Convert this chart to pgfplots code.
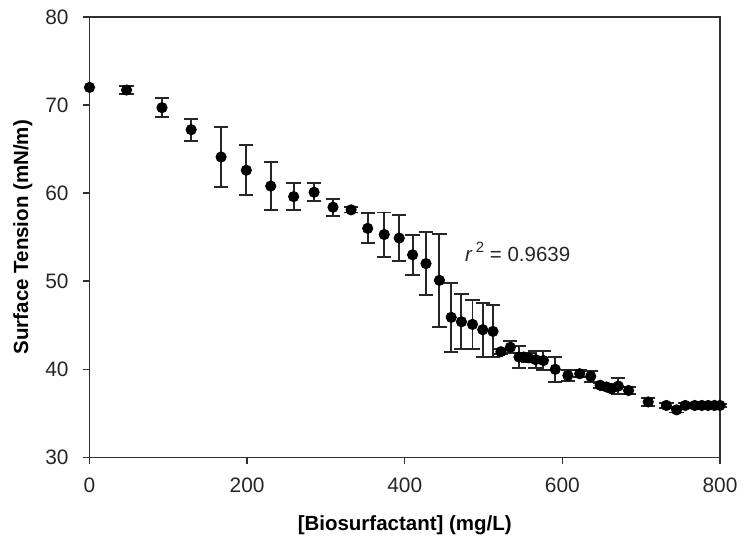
\documentclass[border=0pt]{standalone}
\usepackage{fontspec}
\setmainfont{Liberation Sans}
\usepackage{pgfplots}
\pgfplotsset{compat=1.18}
\definecolor{axgray}{HTML}{303030}

\begin{document}
\begin{tikzpicture}
\begin{axis}[
    scale only axis,
    width=317pt, height=221.5pt,
    xmin=0, xmax=800, ymin=30, ymax=80,
    xtick={0,200,...,800}, ytick={30,40,...,80},
    minor tick num=0,
    xtick pos=left, ytick pos=left,
    tick align=outside,
    major tick length=3.5pt,
    axis line style={axgray, line width=0.75pt},
    every tick/.style={axgray, line width=0.75pt},
    /pgf/number format/assume math mode=true,
    tick label style={font=\fontsize{10.5}{12}\selectfont, text=black!85},
    xticklabel style={yshift=-3.5pt},
    yticklabel style={xshift=-3.5pt},
    label style={font=\fontsize{10.3}{12}\selectfont\bfseries},
    xlabel={[Biosurfactant] (mg/L)},
    ylabel={Surface Tension (mN/m)},
    xlabel style={at={(rel axis cs:0.5,0)}, anchor=center, yshift=-34pt},
    ylabel style={at={(rel axis cs:0,0.5)}, anchor=center, yshift=33.5pt},
    clip=false,
]
\addplot[only marks, mark=*, mark size=2.6pt, black] coordinates {(0,72.0)};
\addplot[only marks, mark=*, mark size=2.6pt, black,
    error bars/.cd, y dir=both, y explicit,
    error bar style={black!85, line width=1pt},
    error mark options={black!85, rotate=90, mark size=3.6pt, line width=1pt}
] coordinates {
    (47,71.7) +- (0,0.5)
    (92,69.7) +- (0,1.1)
    (129,67.2) +- (0,1.25)
    (167,64.1) +- (0,3.35)
    (199,62.6) +- (0,2.85)
    (230,60.8) +- (0,2.75)
    (259,59.6) +- (0,1.5)
    (285,60.1) +- (0,1.0)
    (309,58.4) +- (0,0.95)
    (332,58.1) +- (0,0.3)
    (353,56.0) +- (0,1.7)
    (374,55.3) +- (0,2.5)
    (393,54.9) +- (0,2.65)
    (410,53.0) +- (0,2.25)
    (427,52.0) +- (0,3.6)
    (444,50.1) +- (0,5.25)
    (459,45.9) +- (0,3.9)
    (472,45.4) +- (0,3.1)
    (486,45.1) +- (0,2.75)
    (499,44.5) +- (0,3.05)
    (512,44.3) +- (0,2.95)
    (522,42.0) +- (0,0.3)
    (534,42.5) +- (0,0.7)
    (545,41.4) +- (0,1.3)
    (551,41.4) +- (0,0.4)
    (557,41.3) +- (0,0.5)
    (566,41.1) +- (0,1.0)
    (576,41.0) +- (0,1.1)
    (591,40.0) +- (0,1.45)
    (607,39.3) +- (0,0.6)
    (622,39.5) +- (0,0.4)
    (636,39.2) +- (0,0.65)
    (648,38.2) +- (0,0.3)
    (656,38.0) +- (0,0.3)
    (662,37.8) +- (0,0.3)
    (671,38.1) +- (0,0.95)
    (684,37.6) +- (0,0.4)
    (709,36.3) +- (0,0.5)
    (732,35.9) +- (0,0.3)
    (745,35.4) +- (0,0.3)
    (756,35.9) +- (0,0.3)
    (768,35.9) +- (0,0.2)
    (777,35.9) +- (0,0.2)
    (785,35.9) +- (0,0.2)
    (793,35.9) +- (0,0.2)
    (800,35.9) +- (0,0.2)
};
\node[anchor=base west, font=\fontsize{10.3}{12}\selectfont, text=black!85, inner sep=0pt]
    at (axis cs:476,52.2) {\textit{r}\,\raisebox{0.45em}{\fontsize{7.5}{9}\selectfont 2} = 0.9639};
\end{axis}
\path (-45pt,-41.5pt) rectangle (327pt,230pt);
\end{tikzpicture}
\end{document}
